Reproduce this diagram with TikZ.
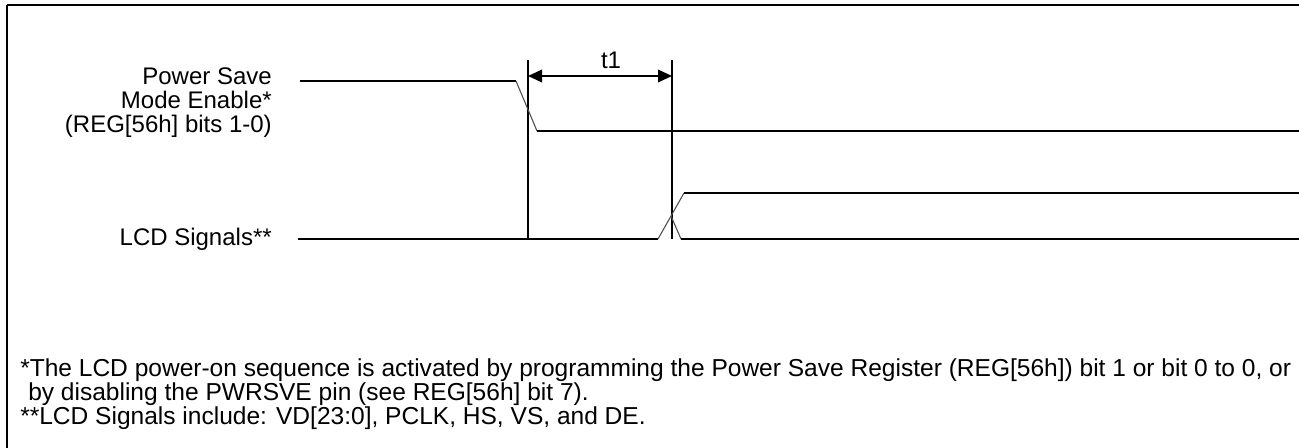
\documentclass[tikz,border=0pt]{standalone}
\usepackage{fontspec}
\setmainfont{Liberation Sans}
\usetikzlibrary{arrows.meta}
\begin{document}
\begin{tikzpicture}[x=0.75pt,y=-0.75pt,
  sig/.style={line width=1pt,black},
  edge/.style={line width=0.8pt,black!70},
  lbl/.style={inner sep=0pt,font=\fontsize{18}{21}\selectfont},
  note/.style={inner sep=0pt,anchor=base west,font=\fontsize{18.4}{21}\selectfont},
  dim/.style={line width=1pt,{Triangle[length=10.5pt,width=9.5pt]}-{Triangle[length=10.5pt,width=9.5pt]}}]
\useasboundingbox (0,0) rectangle (1299,448);
% frame (top and left edges)
\draw[line width=2.2pt] (7,5) -- (1299,5);
\draw[line width=2.2pt] (7,5) -- (7,448);
% labels
\node[lbl,anchor=base east] (l1) at (272,85) {Power Save};
\node[lbl,anchor=base east] (l2) at (272,109) {Mode Enable*};
\node[lbl,anchor=base east] (l3) at (272,133) {(REG[56h] bits 1-0)};
\node[lbl,anchor=base east] (l4) at (272,246) {LCD Signals**};
% timing reference lines
\coordinate (v1t) at (528,60); \coordinate (v1b) at (528,239);
\coordinate (v2t) at (672,60); \coordinate (v2b) at (672,239);
\draw[sig] (v1t) -- (v1b);
\draw[sig] (v2t) -- (v2b);
\coordinate (a1) at (528,76); \coordinate (a2) at (672,76);
\draw[dim] (a1) -- (a2);
\node[lbl,anchor=base] (t1) at (611,69) {t1};
% Power save waveform
\coordinate (p0) at (300,81); \coordinate (p1) at (516,81);
\coordinate (p2) at (537,131); \coordinate (p3) at (1299,131);
\draw[sig] (p0) -- (p1);
\draw[edge] (p1) -- (p2);
\draw[sig] (p2) -- (p3);
% LCD waveform
\coordinate (c0) at (298,239); \coordinate (c1) at (658,239);
\coordinate (c2) at (684,193); \coordinate (c3) at (1299,193);
\coordinate (cx) at (671,216); \coordinate (c4) at (681,239);
\coordinate (c5) at (1299,239);
\draw[sig] (c0) -- (c1);
\draw[edge] (c1) -- (c2);
\draw[sig] (c2) -- (c3);
\draw[edge] (cx) -- (c4);
\draw[sig] (c4) -- (c5);
% footnotes
\node[note] (n1) at (20,377) {*The LCD power-on sequence is activated by programming the Power Save Register (REG[56h]) bit 1 or bit 0 to 0, or};
\node[note] (n2) at (28,401) {by disabling the PWRSVE pin (see REG[56h] bit 7).};
\node[note] (n3) at (20,425) {**LCD Signals include: VD[23:0], PCLK, HS, VS, and DE.};
\end{tikzpicture}
\end{document}
